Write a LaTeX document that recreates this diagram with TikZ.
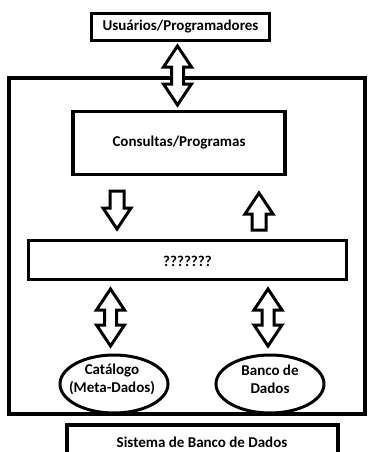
\documentclass[tikz,border=0pt]{standalone}
\usepackage{fontspec}
\setmainfont{Carlito}
\usetikzlibrary{shapes.geometric}
\begin{document}
\begin{tikzpicture}[x=1pt,y=-1pt,
  box/.style={draw,line width=3.5pt,inner sep=0pt},
  ell/.style={draw,ellipse,line width=3pt,inner sep=0pt},
  lbl/.style={font=\fontsize{15}{18}\selectfont\bfseries,align=center},
  barrow/.style={draw,line width=3pt,line join=miter,fill=white}]
\useasboundingbox (0,0) rectangle (367,452);
% outer system box
\draw[line width=4pt] (9,78) rectangle (365,414);
% top box
\node[box,minimum width=178pt,minimum height=27pt] (users) at (180.5,27) {};
\node[lbl] (userst) at (180.5,27) {Usuários/Programadores};
% consultas box
\node[box,minimum width=212pt,minimum height=63pt] (cons) at (179,143) {};
\node[lbl] (const) at (179,143) {Consultas/Programas};
% ??? box
\node[box,minimum width=318pt,minimum height=39pt] (mid) at (187.5,260) {};
\node[lbl] (midt) at (187.5,261) {???????};
% ellipses
\node[ell,minimum width=108pt,minimum height=58pt] (cat) at (114,384) {};
\node[lbl] (catt) at (112,379) {Catálogo\\(Meta-Dados)};
\node[ell,minimum width=108pt,minimum height=58pt] (bd) at (270,384) {};
\node[lbl] (bdt) at (270,379) {Banco de\\Dados};
% bottom label box
\draw[line width=4pt] (67,425) -- (338,425) (67,423) -- (67,455) (338,423) -- (338,455);
\node[lbl] (sys) at (202,442) {Sistema de Banco de Dados};
% double arrows
\newcommand{\dblarrow}[3]{% cx, top, bottom
  \draw[barrow] (#1,#2) -- ++(14,21) -- ++(-8,0) -- (#1+6,#3-21) -- ++(8,0) -- (#1,#3)
    -- ++(-14,-21) -- ++(8,0) -- (#1-6,#2+21) -- ++(-8,0) -- cycle;}
\dblarrow{177.5}{46}{105}
\dblarrow{110.5}{289}{346}
\dblarrow{268}{289}{346}
% single arrows
\draw[barrow] (117,229) -- ++(14,-21) -- ++(-7,0) -- ++(0,-17) -- ++(-14,0) -- ++(0,17) -- ++(-7,0) -- cycle;
\draw[barrow] (259,193) -- ++(14,21) -- ++(-7,0) -- ++(0,16) -- ++(-14,0) -- ++(0,-16) -- ++(-7,0) -- cycle;
\end{tikzpicture}
\end{document}
